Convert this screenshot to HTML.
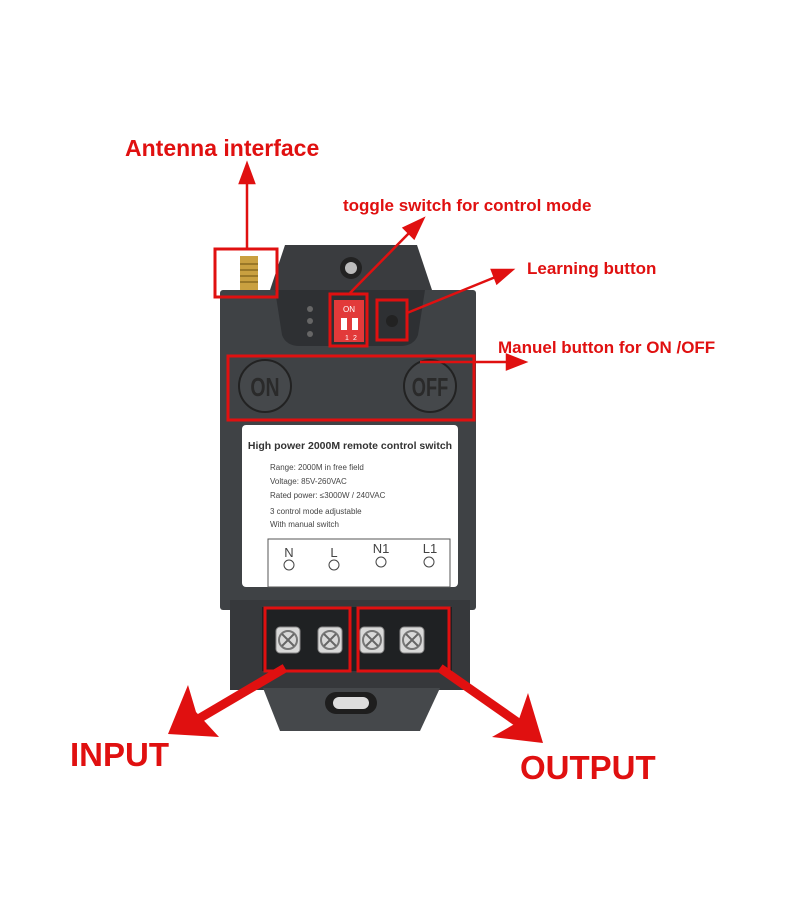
<!DOCTYPE html>
<html><head><meta charset="utf-8"><style>
html,body{margin:0;padding:0;background:#fff;}
svg{display:block;}
</style></head><body>
<svg width="800" height="923" viewBox="0 0 800 923" xmlns="http://www.w3.org/2000/svg" font-family="Liberation Sans, Arial, sans-serif">
<rect width="800" height="923" fill="#fff"/>
<!-- antenna -->
<rect x="240" y="256" width="18" height="36" fill="#c9a040"/>
<g stroke="#8a6a20" stroke-width="1.5"><line x1="240" y1="264" x2="258" y2="264"/><line x1="240" y1="270" x2="258" y2="270"/><line x1="240" y1="276" x2="258" y2="276"/><line x1="240" y1="282" x2="258" y2="282"/></g>
<!-- top hump -->
<path d="M285 245 L417 245 L432 290 L270 290 Z" fill="#3a3c3f"/>
<circle cx="351" cy="268" r="11" fill="#222"/><circle cx="351" cy="268" r="6" fill="#bbb"/>
<!-- main body -->
<rect x="220" y="290" width="256" height="320" rx="3" fill="#3f4245"/>
<path d="M275 290 L425 290 L418 335 Q414 346 400 346 L300 346 Q286 346 282 335 Z" fill="#2e3033"/>
<circle cx="310" cy="309" r="3" fill="#666"/><circle cx="310" cy="321" r="3" fill="#666"/><circle cx="310" cy="334" r="3" fill="#666"/>
<rect x="334" y="300" width="30" height="42" fill="#e23a3a"/>
<text x="349" y="312" font-size="8" fill="#fff" text-anchor="middle">ON</text>
<rect x="341" y="318" width="6" height="12" fill="#fff"/><rect x="352" y="318" width="6" height="12" fill="#fff"/>
<text x="345" y="340" font-size="7" fill="#fff">1</text><text x="353" y="340" font-size="7" fill="#fff">2</text>
<circle cx="392" cy="321" r="6" fill="#222"/>
<circle cx="265" cy="386" r="26" fill="#45484b" stroke="#222" stroke-width="2"/>
<text x="265" y="396" font-size="26" font-weight="bold" fill="#2a2a2a" text-anchor="middle" transform="translate(265 0) scale(0.75 1) translate(-265 0)">ON</text>
<circle cx="430" cy="386" r="26" fill="#45484b" stroke="#222" stroke-width="2"/>
<text x="430" y="396" font-size="26" font-weight="bold" fill="#2a2a2a" text-anchor="middle" transform="translate(430 0) scale(0.7 1) translate(-430 0)">OFF</text>
<!-- label -->
<rect x="242" y="425" width="216" height="162" rx="4" fill="#fff"/>
<text x="350" y="449" font-size="10.5" font-weight="bold" fill="#333" text-anchor="middle">High power 2000M remote control switch</text>
<g font-size="8" fill="#444"><text x="270" y="470">Range: 2000M in free field</text><text x="270" y="484">Voltage: 85V-260VAC</text><text x="270" y="498">Rated power: ≤3000W / 240VAC</text><text x="270" y="514">3 control mode adjustable</text><text x="270" y="527">With manual switch</text></g>
<rect x="268" y="539" width="182" height="48" fill="none" stroke="#555" stroke-width="1"/>
<g font-size="13" fill="#444" text-anchor="middle"><text x="289" y="557">N</text><text x="334" y="557">L</text><text x="381" y="553">N1</text><text x="430" y="553">L1</text></g>
<g fill="none" stroke="#444"><circle cx="289" cy="565" r="5"/><circle cx="334" cy="565" r="5"/><circle cx="381" cy="562" r="5"/><circle cx="429" cy="562" r="5"/></g>
<!-- lower section -->
<rect x="230" y="600" width="240" height="90" fill="#36383b"/>
<rect x="262" y="607" width="190" height="64" fill="#1f2123"/>
<g fill="#d9d9d9" stroke="#888"><rect x="276" y="627" width="24" height="26" rx="4"/><rect x="318" y="627" width="24" height="26" rx="4"/><rect x="360" y="627" width="24" height="26" rx="4"/><rect x="400" y="627" width="24" height="26" rx="4"/></g>
<g fill="none" stroke="#777" stroke-width="2"><circle cx="288" cy="640" r="9"/><circle cx="330" cy="640" r="9"/><circle cx="372" cy="640" r="9"/><circle cx="412" cy="640" r="9"/></g>
<g stroke="#666" stroke-width="2"><path d="M282 634 L294 646 M294 634 L282 646"/><path d="M324 634 L336 646 M336 634 L324 646"/><path d="M366 634 L378 646 M378 634 L366 646"/><path d="M406 634 L418 646 M418 634 L406 646"/></g>
<path d="M263 688 L440 688 L420 731 L280 731 Z" fill="#45484b"/>
<rect x="325" y="692" width="52" height="22" rx="11" fill="#1e1e1e"/><rect x="333" y="697" width="36" height="12" rx="6" fill="#ddd"/>
<!-- red boxes -->
<g fill="none" stroke="#e01010" stroke-width="3">
<rect x="215" y="249" width="62" height="48"/>
<rect x="330" y="294" width="37" height="52"/>
<rect x="377" y="300" width="30" height="40"/>
<rect x="228" y="356" width="246" height="64"/>
<rect x="265" y="608" width="85" height="63"/>
<rect x="358" y="608" width="91" height="63"/>
</g>
<!-- thin arrows -->
<g stroke="#e01010" stroke-width="2.5" fill="#e01010">
<line x1="247" y1="249" x2="247" y2="178"/><path d="M247 164 L240 183 L254 183 Z"/>
<line x1="350" y1="293" x2="412" y2="230"/><path d="M423 219 L404 228 L414 238 Z"/>
<line x1="407" y1="313" x2="498" y2="276"/><path d="M512 270 L492 270 L497 283 Z"/>
<line x1="420" y1="362" x2="510" y2="362"/><path d="M525 362 L507 355 L507 369 Z"/>
</g>
<!-- thick arrows -->
<g fill="#e01010">
<line x1="285" y1="668" x2="200" y2="718" stroke="#e01010" stroke-width="9"/>
<path d="M168 734 L188 685 L196 712 L219 737 Z"/>
<line x1="440" y1="668" x2="520" y2="724" stroke="#e01010" stroke-width="9"/>
<path d="M543 743 L492 737 L518 722 L528 693 Z"/>
</g>
<!-- texts -->
<g fill="#e01010" font-weight="bold">
<text x="125" y="156" font-size="23">Antenna interface</text>
<text x="343" y="211" font-size="17">toggle switch for control mode</text>
<text x="527" y="274" font-size="17">Learning button</text>
<text x="498" y="353" font-size="17">Manuel button for ON /OFF</text>
<text x="70" y="766" font-size="33">INPUT</text>
<text x="520" y="779" font-size="33">OUTPUT</text>
</g>
</svg>
</body></html>
